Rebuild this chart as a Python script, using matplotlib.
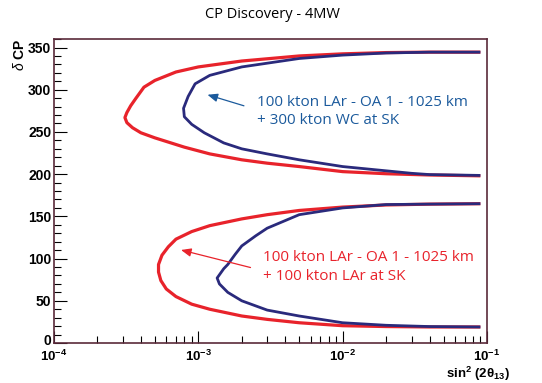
import matplotlib
matplotlib.use("Agg")
import matplotlib.pyplot as plt
import matplotlib.transforms as mtransforms
from matplotlib.ticker import MultipleLocator, LogLocator, NullFormatter, FixedLocator

# ---- data ----
# upper lobe, red: 100 kton LAr + 100 kton LAr at SK
red_up_x = [0.09, 0.04, 0.02, 0.01, 0.005, 0.003, 0.002, 0.0012, 0.0008, 0.0005, 0.0004,
            0.00035, 0.00032, 0.00031, 0.00032, 0.00034, 0.00037, 0.00042, 0.0005, 0.0007, 0.001,
            0.002, 0.005, 0.01, 0.02, 0.04, 0.09]
red_up_y = [198, 199, 200.5, 203, 209, 213, 217, 224, 232, 243, 249,
            255, 261, 267, 273, 281, 290, 303, 311, 321, 327,
            334, 340, 342.5, 344, 344.5, 344.5]
# upper lobe, blue: 100 kton LAr + 300 kton WC at SK
blue_up_x = [0.09, 0.04, 0.03, 0.01, 0.005, 0.003, 0.002, 0.0015, 0.0011, 0.0009, 0.0008,
             0.00079, 0.00085, 0.00095, 0.0012, 0.002, 0.005, 0.01, 0.02, 0.04, 0.09]
blue_up_y = [198.5, 199.5, 201, 209, 217, 224, 230, 237, 249, 259, 268,
             278, 292, 307, 317, 327, 337, 341, 343.5, 344.5, 344.5]
# lower lobe, red
red_lo_x = [0.09, 0.04, 0.02, 0.01, 0.005, 0.003, 0.002, 0.0012, 0.0009, 0.0007, 0.0006,
            0.00055, 0.00053, 0.00053, 0.00056, 0.00062, 0.0007, 0.0009, 0.0012, 0.002,
            0.003, 0.005, 0.01, 0.02, 0.04, 0.09]
red_lo_y = [19, 19, 19.5, 20.5, 24, 28, 32, 40, 46, 55, 64,
            74, 84, 93, 104, 114, 123, 132, 139, 147,
            152, 157, 161, 163.5, 164.5, 165]
# lower lobe, blue
blue_lo_x = [0.09, 0.04, 0.02, 0.01, 0.005, 0.003, 0.002, 0.0016, 0.0014, 0.00135, 0.0015,
             0.0016, 0.0018, 0.002, 0.0025, 0.003, 0.005, 0.01, 0.02, 0.04, 0.09]
blue_lo_y = [19, 19.5, 21, 24, 32, 39, 50, 60, 70, 77, 88,
             93, 105, 115, 127, 136, 152, 160, 164, 164.5, 165]

x_ticks = [1e-4, 1e-3, 1e-2, 1e-1]
x_tick_labels = [r"$\mathbf{10^{-4}}$", r"$\mathbf{10^{-3}}$", r"$\mathbf{10^{-2}}$", r"$\mathbf{10^{-1}}$"]
y_ticks = [0, 50, 100, 150, 200, 250, 300, 350]
y_tick_labels = ["0", "50", "100", "150", "200", "250", "300", "350"]

title = "CP Discovery - 4MW"
blue_label = "100 kton LAr - OA 1 - 1025 km\n+ 300 kton WC at SK"
red_label = "100 kton LAr - OA 1 - 1025 km\n+ 100 kton LAr at SK"

# ---- style ----
plt.rcParams["mathtext.fontset"] = "custom"
plt.rcParams["mathtext.rm"] = "Liberation Sans"
plt.rcParams["mathtext.bf"] = "Liberation Sans:bold"
plt.rcParams["mathtext.it"] = "Liberation Sans:italic"

RED = "#e8232b"
NAVY = "#2a2a7c"
TBLUE = "#1b5a9c"
FRAME = "#5a2a3a"

fig = plt.figure(figsize=(5.42, 3.83), dpi=100)
ax = fig.add_axes([0.0996, 0.1044, 0.7989, 0.7936])

ax.plot(red_up_x, red_up_y, color=RED, lw=2.3, solid_joinstyle="round", solid_capstyle="butt", zorder=2)
ax.plot(red_lo_x, red_lo_y, color=RED, lw=2.3, solid_joinstyle="round", solid_capstyle="butt", zorder=2)
ax.plot(blue_up_x, blue_up_y, color=NAVY, lw=2.0, solid_joinstyle="round", solid_capstyle="butt", zorder=3)
ax.plot(blue_lo_x, blue_lo_y, color=NAVY, lw=2.0, solid_joinstyle="round", solid_capstyle="butt", zorder=3)

ax.set_xscale("log")
ax.set_xlim(1e-4, 1e-1)
ax.set_ylim(0, 360)

ax.xaxis.set_major_locator(FixedLocator(x_ticks))
ax.set_xticklabels(x_tick_labels)
ax.xaxis.set_minor_locator(LogLocator(base=10, subs=range(2, 10)))
ax.xaxis.set_minor_formatter(NullFormatter())
ax.yaxis.set_major_locator(FixedLocator(y_ticks))
ax.set_yticklabels(y_tick_labels)
ax.yaxis.set_minor_locator(MultipleLocator(10))

ax.tick_params(axis="both", which="both", direction="in", colors="black", labelcolor="black",
               top=False, right=False)
ax.tick_params(axis="x", which="major", length=9, width=0.8, pad=4.5, labelsize=9.5)
ax.tick_params(axis="x", which="minor", length=5, width=0.8)
ax.tick_params(axis="y", which="major", length=9, width=0.8, pad=2, labelsize=10)
ax.tick_params(axis="y", which="minor", length=5, width=0.8)
for lbl in ax.get_yticklabels():
    lbl.set_fontweight("bold")
    lbl.set_family("Liberation Sans")
# nudge the "0" label up a little so it does not touch "10^-4"
zero_tick = ax.yaxis.get_major_ticks()[0]
zero_tick.label1.set_transform(zero_tick.label1.get_transform() +
                               mtransforms.ScaledTranslation(0, 3.5 / 100, fig.dpi_scale_trans))
for sp in ax.spines.values():
    sp.set_color(FRAME)
    sp.set_linewidth(1.2)

fig.text(0.502, 0.963, title, ha="center", va="center", fontsize=10.5, family="Open Sans")
fig.text(0.036, 0.9, r"$\delta$ CP", rotation=90, ha="center", va="top", fontsize=10,
         fontweight="bold", family="Liberation Sans")
fig.text(0.94, 0.0, r"$\mathbf{sin^{2}\ (2\theta_{13})}$", ha="right", va="bottom", fontsize=9.5)

ax.annotate("", xy=(1.11e-3, 295), xytext=(2.16e-3, 280),
            arrowprops=dict(arrowstyle="-|>,head_length=0.6,head_width=0.25", color=TBLUE, lw=0.9))
ax.text(2.55e-3, 274, blue_label, color=TBLUE, fontsize=11, family="Open Sans",
        ha="left", va="center", linespacing=1.3)

ax.annotate("", xy=(7.27e-4, 111), xytext=(2.4e-3, 88.6),
            arrowprops=dict(arrowstyle="-|>,head_length=0.6,head_width=0.25", color=RED, lw=0.9))
ax.text(2.82e-3, 90, red_label, color=RED, fontsize=11, family="Open Sans",
        ha="left", va="center", linespacing=1.3)

fig.savefig("out.png", dpi=100)
